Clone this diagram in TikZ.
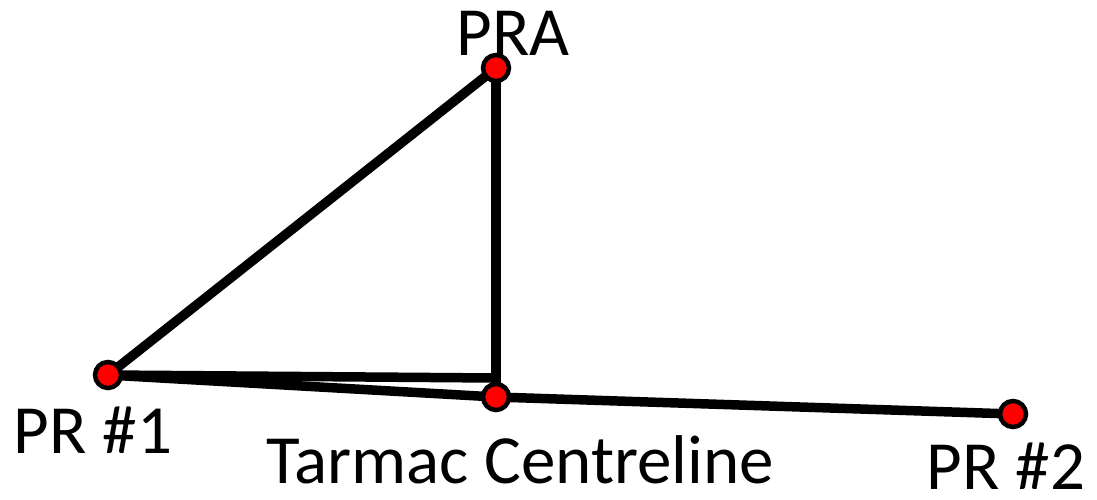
\documentclass[tikz,border=0pt]{standalone}
\usepackage{fontspec}
\setmainfont{Carlito}
\usepackage{tikz}
\usetikzlibrary{positioning,calc}
\usepackage{xcolor}

\begin{document}
\begin{tikzpicture}[x=1pt, y=-1pt,
    leg/.style={line width=9.5pt, line cap=round, line join=round},
    survey/.style={circle, draw=black, fill=red, line width=4.5pt, minimum size=26pt, inner sep=0pt},
    tag/.style={anchor=base, inner sep=0pt, font=\fontsize{69}{80}\selectfont}]
    % Frame
    \useasboundingbox (0, 0) rectangle (1097, 499);

    % Survey points
    \coordinate (pra) at (496, 68);
    \coordinate (pr1) at (108, 375);
    \coordinate (tc) at (496, 397);
    \coordinate (pr2) at (1013, 414);
    \coordinate (foot) at (496, 378);

    % Lines
    \draw[leg] (pr1) -- (pra);
    \draw[leg] (pra) -- (tc);
    \draw[leg] (pr1) -- (foot);
    \draw[leg] (pr1) -- (tc) -- (pr2);

    % Markers
    \node[survey] (praDot) at (pra) {};
    \node[survey] (pr1Dot) at (pr1) {};
    \node[survey] (tcDot) at (tc) {};
    \node[survey] (pr2Dot) at (pr2) {};

    % Labels
    \node[tag] (praLabel) at (513, 55) {PRA};
    \node[tag] (pr1Label) at (93, 453) {PR \#1};
    \node[tag] (tcLabel) at (520, 483) {Tarmac Centreline};
    \node[tag] (pr2Label) at (1006, 489) {PR \#2};

\end{tikzpicture}
\end{document}
